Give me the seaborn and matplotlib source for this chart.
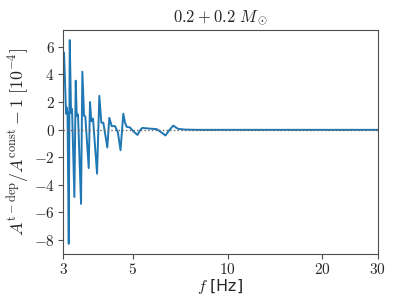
import numpy as np
import pandas as pd
import seaborn as sns
import matplotlib.pyplot as plt
from matplotlib.ticker import FixedLocator, FuncFormatter, NullLocator

# frequency [Hz] and relative amplitude difference [1e-4]
freq = [3.022, 3.067, 3.082, 3.100, 3.128, 3.151, 3.181, 3.204, 3.259, 3.292,
        3.316, 3.347, 3.422, 3.455, 3.498, 3.531, 3.620, 3.654, 3.689, 3.735,
        3.847, 3.912, 3.970, 4.028, 4.147, 4.208, 4.283, 4.388, 4.48, 4.567,
        4.662, 4.72, 4.779, 4.896, 5.03, 5.172, 5.27, 5.356, 5.47, 5.584,
        5.954, 6.15, 6.347, 6.52, 6.719, 6.85, 6.968, 7.3, 8.0, 10.0,
        15.0, 20.0, 30.0]
ratio = [5.6, 1.15, 1.6, 1.2, -8.3, 6.5, 1.2, 1.5, -4.9, 3.55,
         1.0, 1.1, -5.4, 4.2, 1.0, 0.95, -2.8, 2.0, 0.6, 0.8,
         -3.2, 2.45, 0.5, 0.5, -1.3, 0.85, 0.25, 0.25, -0.2, -1.5,
         1.15, 0.5, 0.2, 0.15, -0.15, -0.39, -0.05, 0.12, 0.1, 0.08,
         0.03, -0.2, -0.43, -0.05, 0.29, 0.15, 0.05, 0.0, -0.02, -0.02,
         -0.02, -0.02, -0.02]

df = pd.DataFrame({"f": freq, "r": ratio})

sns.set_style("ticks")
plt.rcParams["mathtext.fontset"] = "cm"
plt.rcParams["axes.edgecolor"] = "0.3"

fig = plt.figure(figsize=(3.99, 2.99), dpi=100)
ax = fig.add_axes([0.158, 0.1505, 0.789, 0.7495])

sns.lineplot(data=df, x="f", y="r", ax=ax, color="#1f77b4", lw=1.4, estimator=None)
ax.axhline(0, ls=":", color="0.4", lw=1, zorder=3)

ax.set_xscale("log")
ax.set_xlim(3, 30)
ax.xaxis.set_major_locator(FixedLocator([3, 5, 10, 20, 30]))
ax.xaxis.set_minor_locator(NullLocator())
ax.xaxis.set_major_formatter(FuncFormatter(lambda v, p: f"${v:g}$"))
ax.set_yticks([-8, -6, -4, -2, 0, 2, 4, 6])
ax.yaxis.set_major_formatter(FuncFormatter(lambda v, p: f"${v:g}$"))
ax.tick_params(labelsize=11, color="0.3", pad=2.5)

ax.set_xlabel(r"$f$ [Hz]", fontsize=11.5, labelpad=0)
ax.set_ylabel(r"$A^{\rm t-dep}/A^{\rm const}-1\ [10^{-4}]$", fontsize=12.8, labelpad=2)
ax.set_title(r"$0.2+0.2\ M_\odot$", fontsize=12)

fig.savefig("out.png", dpi=100)
